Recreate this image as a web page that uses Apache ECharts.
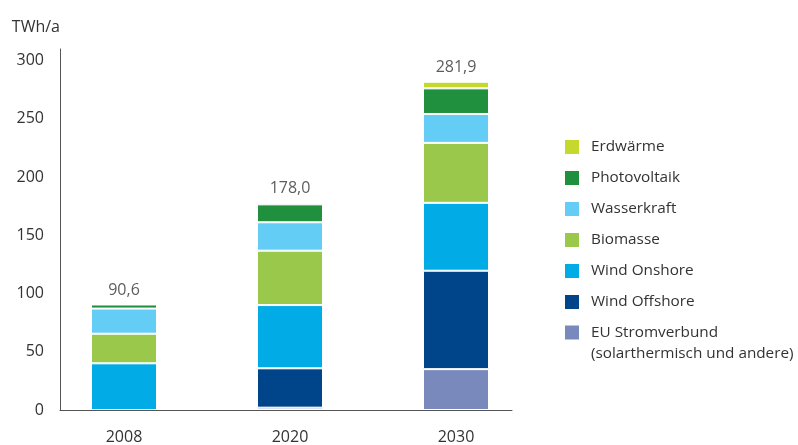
<!DOCTYPE html>
<html>
<head>
<meta charset="utf-8">
<script src="https://cdn.jsdelivr.net/npm/echarts@6/dist/echarts.min.js"></script>
<style>
  html, body { margin: 0; padding: 0; background: #ffffff; }
  #chart { width: 798px; height: 445px; }
</style>
</head>
<body>
<div id="chart"></div>
<script>
// Stromerzeugung aus erneuerbaren Energien, TWh/a
const years = ['2008', '2020', '2030'];

// Segments, bottom to top
const euStromverbund = [0, 2.0, 35.1];
const windOffshore   = [0, 33.8, 84.5];
const windOnshore    = [40.1, 54.3, 58.3];
const biomasse       = [25.4, 46.7, 51.5];
const wasserkraft    = [21.6, 24.4, 24.8];
const photovoltaik   = [3.5, 15.4, 22.0];
const erdwaerme      = [0, 1.4, 5.7];

const yTicks = [0, 50, 100, 150, 200, 250, 300];

const EU_NAME = 'EU Stromverbund\n(solarthermisch und andere)';

const layers = [
  { name: EU_NAME, data: euStromverbund, color: '#7a89bc' },
  { name: 'Wind Offshore', data: windOffshore, color: '#00448a' },
  { name: 'Wind Onshore', data: windOnshore, color: '#00abe6' },
  { name: 'Biomasse', data: biomasse, color: '#9ac84a' },
  { name: 'Wasserkraft', data: wasserkraft, color: '#64cdf5' },
  { name: 'Photovoltaik', data: photovoltaik, color: '#20903f' },
  { name: 'Erdwärme', data: erdwaerme, color: '#c4d82e' }
];

const totals = years.map((_, i) => layers.reduce((s, l) => s + l.data[i], 0));
const fmt = v => v.toFixed(1).replace('.', ',');

const FONT = '"Open Sans", "Noto Sans", sans-serif';
const TEXT = '#333333';
const AXIS = '#555555';
const yMax = 310;
const gridTop = 49, gridBottom = 35;

const chart = echarts.init(document.getElementById('chart'), null, { renderer: 'canvas' });

const barSeries = layers.map(l => ({
  name: l.name,
  type: 'bar',
  stack: 'total',
  xAxisIndex: 1,
  yAxisIndex: 1,
  barWidth: 66,
  data: l.data.map(v => (v === 0 ? '-' : v)),
  itemStyle: { color: l.color, borderColor: '#ffffff', borderWidth: 1 },
  emphasis: { disabled: true }
}));

const legendItems = layers.slice().reverse().map(l => ({ name: l.name, itemStyle: { color: l.color } }));

const legendBase = {
  orient: 'vertical',
  left: 563,
  padding: 0,
  itemWidth: 16,
  itemHeight: 16,
  itemGap: 13,
  icon: 'rect',
  selectedMode: false,
  textStyle: { fontFamily: FONT, fontSize: 15.3, color: TEXT, lineHeight: 16, padding: [0, 0, 0, 6] }
};

chart.setOption({
  animation: false,
  textStyle: { fontFamily: FONT },
  grid: [
    // axis frame
    { left: 60, right: 286, top: gridTop, bottom: gridBottom },
    // bar bands
    { left: 41, right: 259, top: gridTop, bottom: gridBottom }
  ],
  legend: [
    Object.assign({}, legendBase, {
      top: 138,
      data: legendItems.filter(d => d.name !== EU_NAME)
    }),
    Object.assign({}, legendBase, {
      top: 301,
      data: legendItems.filter(d => d.name === EU_NAME),
      // leading empty line keeps the first line level with the swatch
      formatter: n => '\n' + n,
      textStyle: Object.assign({}, legendBase.textStyle, { lineHeight: 21 })
    })
  ],
  xAxis: [
    {
      type: 'value', gridIndex: 0, min: 0, max: 1, z: 5,
      axisLine: { show: true, onZero: false, lineStyle: { color: AXIS, width: 1 } },
      axisTick: { show: false }, axisLabel: { show: false }, splitLine: { show: false }
    },
    {
      type: 'category', gridIndex: 1, data: years,
      axisLine: { show: false }, axisTick: { show: false }, splitLine: { show: false },
      axisLabel: { color: TEXT, fontSize: 16, fontFamily: FONT, margin: 19 }
    }
  ],
  yAxis: [
    {
      type: 'value', gridIndex: 0, min: 0, max: yMax, interval: 50, z: 5,
      name: 'TWh/a', nameLocation: 'end', nameGap: 14,
      nameTextStyle: { color: TEXT, fontSize: 16, fontFamily: FONT, align: 'right' },
      axisLine: { show: true, lineStyle: { color: AXIS, width: 1 } },
      axisTick: { show: false }, splitLine: { show: false },
      axisLabel: {
        color: TEXT, fontSize: 16, fontFamily: FONT, margin: 16,
        showMaxLabel: false,
        formatter: v => (yTicks.indexOf(v) >= 0 ? String(v) : '')
      }
    },
    {
      type: 'value', gridIndex: 1, min: 0, max: yMax, show: false, splitLine: { show: false }
    }
  ],
  series: barSeries.concat([{
    name: 'Summe',
    type: 'scatter',
    xAxisIndex: 1,
    yAxisIndex: 1,
    symbolSize: 0,
    silent: true,
    data: totals,
    label: {
      show: true, position: 'top', distance: 6,
      color: TEXT, fontSize: 16, fontFamily: FONT,
      formatter: p => fmt(p.value)
    },
    z: 10
  }])
});
</script>
</body>
</html>
